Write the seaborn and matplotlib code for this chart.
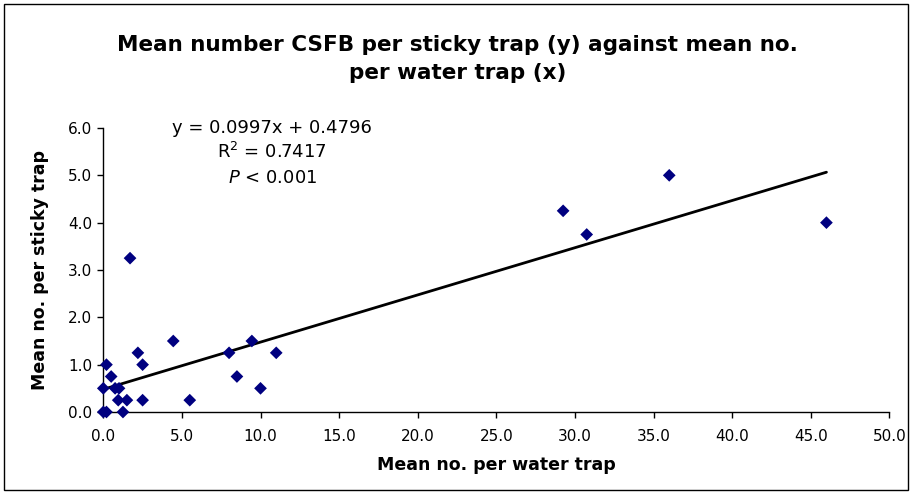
import matplotlib
matplotlib.use("Agg")
import matplotlib.pyplot as plt
import seaborn as sns
import numpy as np
import pandas as pd
from matplotlib.patches import Rectangle

water_x = [1.7, 4.45, 2.2, 2.5, 0.2, 0.5, 0.0, 0.75, 1.0, 0.95, 1.5, 2.5, 5.5,
           0.0, 0.2, 1.25, 8.0, 9.45, 8.5, 10.0, 11.0, 29.25, 30.75, 36.0, 46.0]
sticky_y = [3.25, 1.5, 1.25, 1.0, 1.0, 0.75, 0.5, 0.5, 0.5, 0.25, 0.25, 0.25, 0.25,
            0.0, 0.0, 0.0, 1.25, 1.5, 0.75, 0.5, 1.25, 4.25, 3.75, 5.0, 4.0]
slope = 0.0997
intercept = 0.4796
x_ticks = [0, 5, 10, 15, 20, 25, 30, 35, 40, 45, 50]
y_ticks = [0, 1, 2, 3, 4, 5, 6]

sns.set_theme(style="white")
plt.rcParams['font.family'] = ['DejaVu Sans']
plt.rcParams['text.color'] = 'black'
plt.rcParams['axes.labelcolor'] = 'black'
plt.rcParams['xtick.color'] = 'black'
plt.rcParams['ytick.color'] = 'black'

df = pd.DataFrame({"x": water_x, "y": sticky_y})

fig = plt.figure(figsize=(9.11, 4.93), dpi=100)
ax = fig.add_axes([0.1134, 0.1643, 0.8628, 0.5761])

sns.scatterplot(data=df, x="x", y="y", marker="D", s=42, color="#000080",
                edgecolor="none", ax=ax, zorder=3, clip_on=False)

xl = np.array([min(water_x), max(water_x)])
ax.plot(xl, slope * xl + intercept, color="black", lw=2.0, zorder=2)

ax.set_xlim(0, 50)
ax.set_ylim(0, 6)
ax.set_xticks(x_ticks)
ax.set_yticks(y_ticks)
ax.set_xticklabels([f"{v:.1f}" for v in x_ticks], fontsize=11)
ax.set_yticklabels([f"{v:.1f}" for v in y_ticks], fontsize=11)
for s in ["top", "right"]:
    ax.spines[s].set_visible(False)
for s in ["left", "bottom"]:
    ax.spines[s].set_color("black")
    ax.spines[s].set_linewidth(1.0)
ax.tick_params(axis="both", which="major", direction="out", length=4, width=1,
               color="black", labelcolor="black", bottom=True, left=True)
ax.tick_params(axis="x", pad=8)
ax.tick_params(axis="y", pad=4)

ax.set_xlabel("Mean no. per water trap", fontsize=12.5, fontweight="bold", labelpad=9)
ax.set_ylabel("Mean no. per sticky trap", fontsize=12.5, fontweight="bold", labelpad=14)

fig.text(0.502, 0.93, "Mean number CSFB per sticky trap (y) against mean no.\nper water trap (x)",
         ha="center", va="top", fontsize=15.5, fontweight="bold", linespacing=1.55)

ax.text(0.215, 1.0, f"y = {slope}x + {intercept}", transform=ax.transAxes,
        ha="center", va="center", fontsize=13)
ax.text(0.215, 0.915, r"R$^2$ = 0.7417", transform=ax.transAxes,
        ha="center", va="center", fontsize=13)
ax.text(0.215, 0.825, r"$\it{P}$ < 0.001", transform=ax.transAxes,
        ha="center", va="center", fontsize=13)

fig.patches.append(Rectangle((4/911, 3/493), 904/911, 486/493, transform=fig.transFigure,
                             fill=False, edgecolor="black", lw=1.0))

fig.savefig("out.png", dpi=100)
